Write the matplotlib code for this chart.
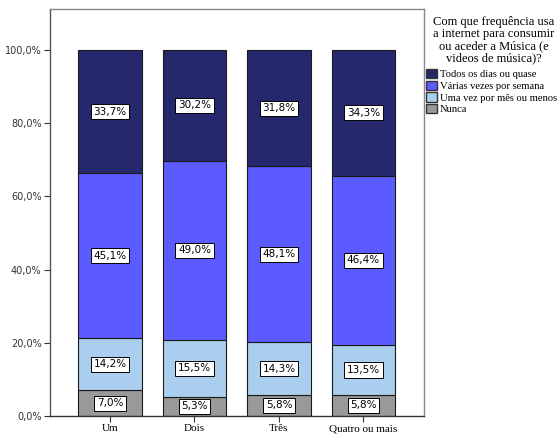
import matplotlib
matplotlib.use("Agg")
import matplotlib.pyplot as plt
from matplotlib.patches import Patch

categories = ["Um", "Dois", "Três", "Quatro ou mais"]
series_names = ["Todos os dias ou quase", "Várias vezes por semana",
                "Uma vez por mês ou menos", "Nunca"]
nunca = [7.0, 5.3, 5.8, 5.8]
uma_vez = [14.2, 15.5, 14.3, 13.5]
varias = [45.1, 49.0, 48.1, 46.4]
todos = [33.7, 30.2, 31.8, 34.3]
yticks = [0, 20, 40, 60, 80, 100]
legend_title = "Com que frequência usa\na internet para consumir\nou aceder a Música (e\nvideos de música)?"

colors = {"Nunca": "#999999", "Uma": "#aacfee", "Varias": "#5b5bff", "Todos": "#26286e"}

fig = plt.figure(figsize=(5.6, 4.48), dpi=100)
ax = fig.add_axes([50/560, 1-416/448, (424-50)/560, (416-9)/448])

x = list(range(len(categories)))
w = 0.757
stack = [(nunca, colors["Nunca"]), (uma_vez, colors["Uma"]),
         (varias, colors["Varias"]), (todos, colors["Todos"])]
bottom = [0.0]*len(x)
for vals, col in stack:
    ax.bar(x, vals, width=w, bottom=bottom, color=col, edgecolor="#1a1a1a", linewidth=0.8)
    for xi, b, v in zip(x, bottom, vals):
        ax.text(xi, b + v/2, f"{v:.1f}%".replace(".", ","), ha="center", va="center",
                fontsize=7.5, family="DejaVu Sans", color="black",
                bbox=dict(boxstyle="square,pad=0.25", fc="white", ec="black", lw=0.7))
    bottom = [b + v for b, v in zip(bottom, vals)]

ax.set_xlim(-0.71, 3.716)
ax.set_ylim(0, 111.2)
ax.set_yticks(yticks)
ax.set_yticklabels([f"{t:.1f}%".replace(".", ",") for t in yticks],
                   fontsize=7, family="DejaVu Sans", color="#333333")
ax.set_xticks(x)
ax.set_xticklabels(categories, fontsize=8, family="Liberation Serif")
ax.tick_params(axis="both", direction="out", length=4, color="#333333", width=0.8)
ax.tick_params(axis="x", pad=2)
ax.tick_params(axis="y", pad=2)
for s in ax.spines.values():
    s.set_color("#888888")
    s.set_linewidth(1.0)
ax.spines["bottom"].set_color("#333333")
ax.spines["left"].set_color("#555555")

handles = [Patch(facecolor=colors["Todos"], edgecolor="#333333"),
           Patch(facecolor=colors["Varias"], edgecolor="#333333"),
           Patch(facecolor=colors["Uma"], edgecolor="#333333"),
           Patch(facecolor=colors["Nunca"], edgecolor="#333333")]
fig.text(494/560, 1-16/448, legend_title, ha="center", va="top", fontsize=9.0,
         family="Liberation Serif", linespacing=1.02)
leg = fig.legend(handles, series_names, loc="upper left", bbox_to_anchor=(426/560, 1-69/448),
                 frameon=False, prop={"family": "Liberation Serif", "size": 7.6},
                 handlelength=1.0, handleheight=1.0, handletextpad=0.3, labelspacing=0.12,
                 borderaxespad=0, borderpad=0)

fig.savefig("out.png", dpi=100)
